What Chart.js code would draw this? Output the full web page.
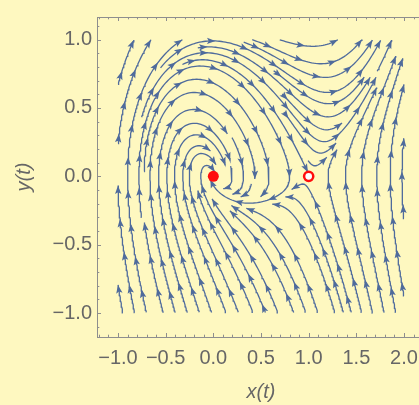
<!DOCTYPE html>
<html>
<head>
<meta charset="utf-8">
<script src="https://cdn.jsdelivr.net/npm/chart.js@4.4.1/dist/chart.umd.min.js"></script>
<style>
  html, body { margin: 0; padding: 0; background: #fef8c0; overflow: hidden; width: 419px; height: 405px; }
  #wrap { position: relative; width: 440px; height: 405px; }
</style>
</head>
<body>
<div id="wrap"><canvas id="chart" width="440" height="405"></canvas></div>
<script>
// plotted region of the phase plane
const xRange = [-1, 2];
const yRange = [-1, 1];
// x' = y,  y' = x^2 + y^2 - x - y   (coefficients of 1, x, y, x^2, y^2)
const xDotCoef = [0, 0, 1, 0, 0];
const yDotCoef = [0, -1, -1, 1, 1];
// equilibrium points (filled = stable, open = unstable)
const equilibriaX = [0, 1];
const equilibriaY = [0, 0];
const equilibriaFilled = [true, false];
// tick labels
const xTicks = [-1, -0.5, 0, 0.5, 1, 1.5, 2];
const yTicks = [-1, -0.5, 0, 0.5, 1];

const streamColor = '#4f6b9c';
const labelColor = '#666666';
const fontFamily = "'Liberation Sans', Arial, sans-serif";

function field(x, y) {
    const t = [1, x, y, x * x, y * y];
    let fx = 0, fy = 0;
    for (let i = 0; i < t.length; i++) {
        fx += xDotCoef[i] * t[i];
        fy += yDotCoef[i] * t[i];
    }
    return [fx, fy];
}

// --- evenly spaced streamlines, traced in (roughly) screen units ---
const PX = 95.3, PY = 139.5;
const W = (xRange[1] - xRange[0]) * PX;
const H = (yRange[1] - yRange[0]) * PY;
const DSEP = 11.5, DTEST = 5.2, STEP = 1, MAXHALF = 260, MINLEN = 14, EQSTOP = 4;
const ARROWGAP = 34;

function dir(X, Y) {
    const f = field(X / PX + xRange[0], Y / PY + yRange[0]);
    const dx = f[0] * PX, dy = f[1] * PY;
    const n = Math.hypot(dx, dy);
    if (n < 1e-9) return null;
    return [dx / n, dy / n];
}

const eqPx = equilibriaX.map((x, i) => [(x - xRange[0]) * PX, (equilibriaY[i] - yRange[0]) * PY]);
function nearEq(X, Y, r) {
    return eqPx.some(e => Math.hypot(e[0] - X, e[1] - Y) < r);
}

const cells = new Map();
function cellKey(i, j) { return i * 1000 + j; }
function addPt(X, Y) {
    const k = cellKey(Math.floor(X / DSEP), Math.floor(Y / DSEP));
    if (!cells.has(k)) cells.set(k, []);
    cells.get(k).push([X, Y]);
}
function tooClose(X, Y, d) {
    const i = Math.floor(X / DSEP), j = Math.floor(Y / DSEP);
    for (let a = i - 1; a <= i + 1; a++) {
        for (let b = j - 1; b <= j + 1; b++) {
            const arr = cells.get(cellKey(a, b));
            if (!arr) continue;
            for (const p of arr) {
                if ((p[0] - X) ** 2 + (p[1] - Y) ** 2 < d * d) return true;
            }
        }
    }
    return false;
}

function traceHalf(X0, Y0, sign) {
    const pts = [];
    let X = X0, Y = Y0;
    for (let n = 0; n < MAXHALF; n++) {
        const d1 = dir(X, Y);
        if (!d1) break;
        const d2 = dir(X + sign * d1[0] * STEP / 2, Y + sign * d1[1] * STEP / 2);
        if (!d2) break;
        const nx = X + sign * d2[0] * STEP, ny = Y + sign * d2[1] * STEP;
        if (nx < 0 || nx > W || ny < 0 || ny > H) break;
        if (nearEq(nx, ny, EQSTOP)) break;
        if (tooClose(nx, ny, DTEST)) break;
        X = nx; Y = ny;
        pts.push([X, Y]);
    }
    return pts;
}

const lines = [];
const queue = [];
function trySeed(X, Y) {
    if (X < 1 || X > W - 1 || Y < 1 || Y > H - 1) return;
    if (nearEq(X, Y, EQSTOP * 2.5)) return;
    if (tooClose(X, Y, DSEP)) return;
    const back = traceHalf(X, Y, -1);
    const fwd = traceHalf(X, Y, 1);
    const pts = back.reverse().concat([[X, Y]], fwd);
    if (pts.length * STEP < MINLEN) return;
    pts.forEach(p => addPt(p[0], p[1]));
    lines.push(pts);
    for (let k = 2; k < pts.length - 2; k += 5) {
        const tx = pts[k + 1][0] - pts[k - 1][0], ty = pts[k + 1][1] - pts[k - 1][1];
        const n = Math.hypot(tx, ty) || 1;
        queue.push([pts[k][0] - ty / n * DSEP, pts[k][1] + tx / n * DSEP]);
        queue.push([pts[k][0] + ty / n * DSEP, pts[k][1] - tx / n * DSEP]);
    }
}
function drain() {
    while (queue.length) {
        const s = queue.shift();
        trySeed(s[0], s[1]);
    }
}
queue.push([W * 0.5, H * 0.75]);
drain();
for (let X = DSEP / 2; X < W; X += DSEP / 2) {
    for (let Y = DSEP / 2; Y < H; Y += DSEP / 2) {
        queue.push([X, Y]);
        drain();
    }
}

function toData(p) {
    return { x: p[0] / PX + xRange[0], y: p[1] / PY + yRange[0] };
}

const streamDatasets = [];
const arrows = [];
lines.forEach(pts => {
    const data = [];
    for (let k = 0; k < pts.length; k += 2) data.push(toData(pts[k]));
    data.push(toData(pts[pts.length - 1]));
    streamDatasets.push({
        data: data,
        showLine: true,
        borderColor: streamColor,
        borderWidth: 1.3,
        pointRadius: 0,
        pointHoverRadius: 0,
        fill: false,
        tension: 0,
        order: 1
    });
    const gap = Math.round(ARROWGAP / STEP);
    for (let i = pts.length - 1; i >= 8; i -= gap) {
        arrows.push({ tip: toData(pts[i]), tail: toData(pts[i - 5]) });
    }
});

const eqDataset = {
    data: equilibriaX.map((x, i) => ({ x: x, y: equilibriaY[i] })),
    showLine: false,
    pointRadius: equilibriaFilled.map(f => f ? 5.5 : 4.6),
    pointHoverRadius: equilibriaFilled.map(f => f ? 5.5 : 4.6),
    pointBackgroundColor: equilibriaFilled.map(f => f ? '#ff0d0d' : '#ffffff'),
    pointBorderColor: '#ff0d0d',
    pointBorderWidth: equilibriaFilled.map(f => f ? 0 : 2.5),
    order: 0
};

function fmt(v) {
    return (v < 0 ? '\u2212' : '') + Math.abs(v).toFixed(1);
}

const arrowPlugin = {
    id: 'arrows',
    beforeDatasetsDraw(chart) {
        const { ctx, chartArea, scales } = chart;
        ctx.save();
        ctx.beginPath();
        ctx.rect(chartArea.left, chartArea.top, chartArea.width, chartArea.height);
        ctx.clip();
        ctx.fillStyle = streamColor;
        arrows.forEach(a => {
            const x1 = scales.x.getPixelForValue(a.tip.x), y1 = scales.y.getPixelForValue(a.tip.y);
            const x0 = scales.x.getPixelForValue(a.tail.x), y0 = scales.y.getPixelForValue(a.tail.y);
            const n = Math.hypot(x1 - x0, y1 - y0) || 1;
            const ux = (x1 - x0) / n, uy = (y1 - y0) / n;
            const len = 8.5, hw = 3.2;
            ctx.beginPath();
            ctx.moveTo(x1, y1);
            ctx.lineTo(x1 - ux * len - uy * hw, y1 - uy * len + ux * hw);
            ctx.lineTo(x1 - ux * len * 0.8, y1 - uy * len * 0.8);
            ctx.lineTo(x1 - ux * len + uy * hw, y1 - uy * len - ux * hw);
            ctx.closePath();
            ctx.fill();
        });
        ctx.restore();
    }
};

const framePlugin = {
    id: 'frame',
    beforeDraw(chart) {
        const { ctx } = chart;
        ctx.save();
        ctx.fillStyle = '#fef8c0';
        ctx.fillRect(0, 0, chart.width, chart.height);
        ctx.restore();
    },
    afterDraw(chart) {
        const { ctx, chartArea: a, scales } = chart;
        ctx.save();
        ctx.strokeStyle = '#8e8e8e';
        ctx.lineWidth = 1;
        ctx.strokeRect(Math.round(a.left) + 0.5, Math.round(a.top) + 0.5,
                       Math.round(a.width), Math.round(a.height));
        ctx.beginPath();
        for (let i = -13; i <= 23; i++) {
            const v = i / 10;
            if (v < scales.x.min || v > scales.x.max) continue;
            const px = Math.round(scales.x.getPixelForValue(v)) + 0.5;
            const L = (i % 5 === 0) ? 4 : 2.3;
            ctx.moveTo(px, a.bottom); ctx.lineTo(px, a.bottom - L);
            ctx.moveTo(px, a.top); ctx.lineTo(px, a.top + L);
        }
        for (let i = -12; i <= 12; i++) {
            const v = i / 10;
            if (v < scales.y.min || v > scales.y.max) continue;
            const py = Math.round(scales.y.getPixelForValue(v)) + 0.5;
            const L = (i % 5 === 0) ? 4 : 2.3;
            ctx.moveTo(a.left, py); ctx.lineTo(a.left + L, py);
            ctx.moveTo(a.right, py); ctx.lineTo(a.right - L, py);
        }
        ctx.stroke();
        ctx.restore();
    }
};

new Chart(document.getElementById('chart').getContext('2d'), {
    type: 'scatter',
    data: { datasets: [eqDataset, ...streamDatasets] },
    options: {
        responsive: false,
        animation: false,
        events: [],
        layout: { padding: { top: 10, right: 15, left: 0, bottom: 0 } },
        plugins: { legend: { display: false }, tooltip: { enabled: false } },
        scales: {
            x: {
                type: 'linear',
                min: -1.22,
                max: 2.22,
                afterBuildTicks: s => { s.ticks = xTicks.map(v => ({ value: v })); },
                afterFit: s => { s.height = 68; },
                grid: { display: false, drawTicks: false },
                border: { display: false },
                ticks: {
                    autoSkip: false, maxRotation: 0, padding: 9,
                    color: labelColor, font: { family: fontFamily, size: 20 },
                    callback: v => fmt(v)
                },
                title: {
                    display: true, text: 'x(t)', color: labelColor,
                    font: { family: fontFamily, size: 20, style: 'italic' },
                    padding: { top: 0, bottom: 1 }
                }
            },
            y: {
                type: 'linear',
                min: -1.175,
                max: 1.165,
                afterBuildTicks: s => { s.ticks = yTicks.map(v => ({ value: v })); },
                afterFit: s => { s.width = 97; },
                grid: { display: false, drawTicks: false },
                border: { display: false },
                ticks: {
                    autoSkip: false, padding: 5,
                    color: labelColor, font: { family: fontFamily, size: 20 },
                    callback: v => fmt(v)
                },
                title: {
                    display: true, text: 'y(t)', color: labelColor,
                    font: { family: fontFamily, size: 20, style: 'italic' },
                    padding: { top: 12, bottom: 0 }
                }
            }
        }
    },
    plugins: [framePlugin, arrowPlugin]
});
</script>
</body>
</html>
